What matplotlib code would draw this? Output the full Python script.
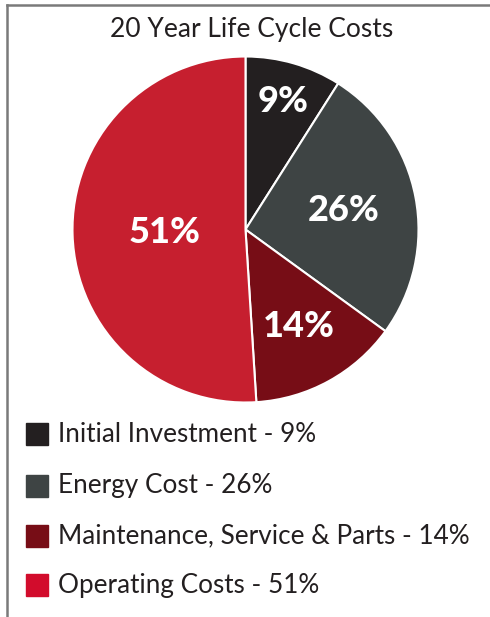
import matplotlib
matplotlib.use("Agg")
import matplotlib.pyplot as plt
from matplotlib.lines import Line2D
from matplotlib.patches import Rectangle
import numpy as np

title = "20 Year Life Cycle Costs"
categories = ["Initial Investment", "Energy Cost", "Maintenance, Service & Parts", "Operating Costs"]
values = [9, 26, 14, 51]
pie_colors = ["#231f20", "#3e4444", "#770d16", "#c61f2f"]
legend_colors = ["#231f20", "#3e4444", "#770d16", "#d20c2c"]
label_dist = [0.77, 0.58, 0.64, 0.47]

W, H = 490, 617
fig = plt.figure(figsize=(W / 100, H / 100), dpi=100)
fig.patch.set_facecolor("white")

def fx(px):
    return px / W

def fy(py):
    return 1 - py / H

# frame lines (top and left)
fig.add_artist(Line2D([fx(7), 1.0], [fy(5), fy(5)], color="#7a7a7a", lw=1.8, transform=fig.transFigure))
fig.add_artist(Line2D([fx(7), fx(7)], [fy(5), 0.0], color="#7a7a7a", lw=1.8, transform=fig.transFigure))

# title
fig.text(fx(252), fy(29), title, ha="center", va="center", fontsize=19,
         family="Lato", color="#231f20")

# pie
cx, cy, r = 245.5, 229.5, 173
ax = fig.add_axes([fx(cx - r), fy(cy + r), 2 * r / W, 2 * r / H])
wedges, _ = ax.pie(values, colors=pie_colors, startangle=90, counterclock=False,
                   radius=1.0, wedgeprops=dict(edgecolor="white", linewidth=1.5))
ax.set_xlim(-1, 1)
ax.set_ylim(-1, 1)
ax.set_aspect("equal")
ax.axis("off")

for w, v, d in zip(wedges, values, label_dist):
    ang = np.deg2rad((w.theta1 + w.theta2) / 2)
    ax.text(d * np.cos(ang), d * np.sin(ang), f"{v}%", ha="center", va="center",
            color="white", fontsize=26, fontweight="black", family="Lato")

# legend
row_y = [434, 486, 536, 585]
for name, v, c, yy in zip(categories, values, legend_colors, row_y):
    fig.add_artist(Rectangle((fx(26), fy(yy + 11)), 22 / W, 22 / H, color=c,
                             transform=fig.transFigure))
    fig.text(fx(58), fy(yy), f"{name} - {v}%", ha="left", va="center",
             fontsize=18.8, family="Lato", color="#231f20")

fig.savefig("out.png", dpi=100)
